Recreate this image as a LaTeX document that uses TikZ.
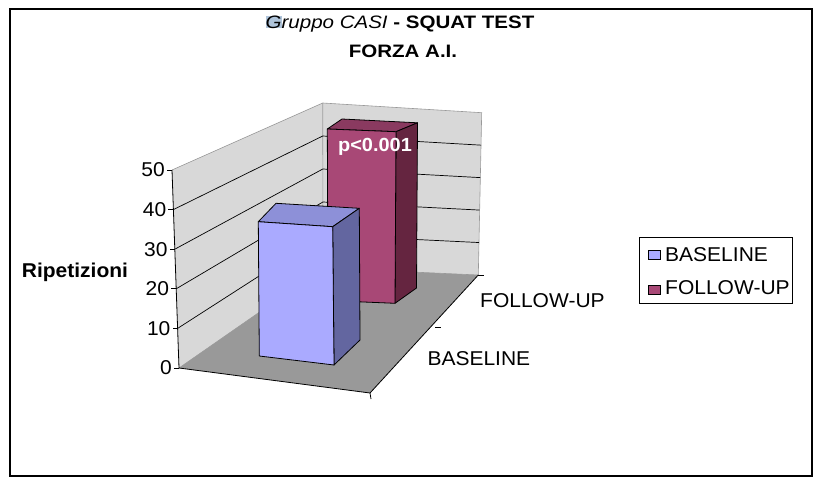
\documentclass[tikz,border=0pt]{standalone}
\usepackage{fontspec}
\setmainfont{Liberation Sans}[FakeStretch=1.05]
\newfontfamily\ttlfont{Liberation Sans}[FakeStretch=1.14]
\definecolor{wallc}{HTML}{D8D8D8}
\definecolor{floorc}{HTML}{999999}
\definecolor{bfront}{HTML}{AAAAFF}
\definecolor{btop}{HTML}{8D90D8}
\definecolor{bside}{HTML}{6366A0}
\definecolor{rfront}{HTML}{A84876}
\definecolor{rtop}{HTML}{8A3A60}
\definecolor{rside}{HTML}{652540}
\definecolor{hlc}{HTML}{AFC4DA}
\tikzset{
  edgeln/.style={draw=gray!80, line width=0.6pt},
  gridln/.style={draw=black, line width=0.7pt},
  axisln/.style={draw=black, line width=0.8pt},
  barface/.style={draw=black, line width=0.8pt, line join=round},
  lab/.style={inner sep=0pt, font=\fontsize{20}{22}\selectfont},
  ttl/.style={inner sep=0pt, font=\ttlfont\fontsize{18}{20}\selectfont},
}
\begin{document}
\begin{tikzpicture}[x=1pt,y=-1pt]
\useasboundingbox (0,0) rectangle (818,484);
\draw[line width=2pt] (9.5,9.5) rectangle (811.5,475.5);
% walls and floor
\fill[wallc] (172,170) -- (322.7,103) -- (323,268) -- (179,368) -- cycle;
\fill[wallc] (322.7,103) -- (481.7,112.7) -- (478.3,275) -- (323,268) -- cycle;
\fill[floorc] (179,368) -- (323,268) -- (478.3,275) -- (370,393) -- cycle;
\draw[edgeln] (172,170) -- (322.7,103) -- (481.7,112.7) -- (478.3,275);
\draw[edgeln] (322.7,103) -- (323,268);
\draw[edgeln] (179,368) -- (323,268) -- (478.3,275);
% gridlines
\foreach \v in {10,20,30,40}{
  \draw[gridln] ({179-0.14*\v},{368-3.96*\v}) -- ({323-0.006*\v},{268-3.3*\v}) -- ({478.3+0.068*\v},{275-3.246*\v});
}
% axes
\draw[axisln] (172,170) -- (179,368) -- (370,393) -- (478.3,275);
\foreach \v in {0,10,20,30,40,50}{
  \draw[axisln] ({179-0.14*\v},{368-3.96*\v}) -- ({174-0.14*\v},{368-3.96*\v});
  \node[lab, anchor=east] (yl\v) at ({172-0.14*\v},{368-3.96*\v}) {\v};
}
\draw[axisln] (370,393) -- (371,399);
\draw[axisln] (435,327) -- (441,327);
\draw[axisln] (478.3,275) -- (484,275);
% red bar (follow-up)
\filldraw[barface, fill=rtop] (327.3,129) -- (342,119) -- (417.5,122.8) -- (396,131.7) -- cycle;
\filldraw[barface, fill=rside] (396,131.7) -- (417.5,122.8) -- (416.5,288) -- (395,303.3) -- cycle;
\filldraw[barface, fill=rfront] (327.3,129) -- (396,131.7) -- (395,303.3) -- (328,300.5) -- cycle;
\node[lab, anchor=base, text=white, font=\bfseries\fontsize{19}{22}\selectfont] (pval) at (375,151.7) {p<0.001};
% blue bar (baseline)
\filldraw[barface, fill=btop] (258.3,221.7) -- (276,203.3) -- (359.3,208.3) -- (332.7,226.7) -- cycle;
\filldraw[barface, fill=bside] (332.7,226.7) -- (359.3,208.3) -- (360,340) -- (334,365) -- cycle;
\filldraw[barface, fill=bfront] (258.3,221.7) -- (332.7,226.7) -- (334,365) -- (259.3,356) -- cycle;
% labels
\node[lab, anchor=base west, font=\bfseries\fontsize{20}{22}\selectfont] (ylab) at (21.7,277.3) {Ripetizioni};
\node[lab, anchor=base west] (catf) at (480,307.3) {FOLLOW-UP};
\node[lab, anchor=base west] (catb) at (427.3,365) {BASELINE};
% title
\node[ttl, anchor=base] (t1) at (400,28.3) {{\setlength\fboxsep{0pt}\colorbox{hlc}{\itshape G}}\itshape ruppo CASI\/\bfseries\upshape{} - SQUAT TEST};
\node[ttl, anchor=base, font=\ttlfont\bfseries\fontsize{18}{20}\selectfont] (t2) at (403,57.3) {FORZA A.I.};
% legend
\draw[line width=0.8pt] (639.3,237.3) rectangle (792.7,303.3);
\filldraw[draw=black, line width=0.6pt, fill=bfront] (648,250) rectangle (660,259);
\filldraw[draw=black, line width=0.6pt, fill=rfront] (648,285) rectangle (660,294);
\node[lab, anchor=base west] (lg1) at (665,261.7) {BASELINE};
\node[lab, anchor=base west] (lg2) at (665,294) {FOLLOW-UP};
\end{tikzpicture}
\end{document}
